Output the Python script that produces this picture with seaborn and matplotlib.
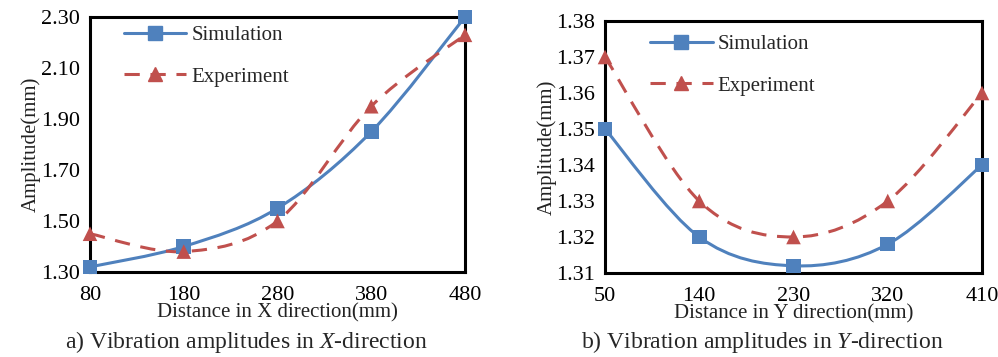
import numpy as np
import pandas as pd
import seaborn as sns
import matplotlib
matplotlib.use("Agg")
import matplotlib.pyplot as plt
from matplotlib.path import Path
from matplotlib.patches import PathPatch
from matplotlib.lines import Line2D

# ---- data ----
x_pos = [80, 180, 280, 380, 480]
x_sim = [1.32, 1.40, 1.55, 1.85, 2.30]
x_exp = [1.45, 1.38, 1.50, 1.95, 2.23]

y_pos = [50, 140, 230, 320, 410]
y_sim = [1.35, 1.32, 1.312, 1.318, 1.34]
y_exp = [1.37, 1.33, 1.32, 1.33, 1.36]

series_names = ["Simulation", "Experiment"]
BLUE = "#4F81BD"
RED = "#C0504D"
DASH = (0, (5, 3.5))

sns.set_theme(style="white")
plt.rcParams["font.family"] = ["Liberation Serif", "DejaVu Serif"]
plt.rcParams["mathtext.fontset"] = "custom"
plt.rcParams["mathtext.it"] = "Liberation Serif:italic"
plt.rcParams["mathtext.rm"] = "Liberation Serif"

fig = plt.figure(figsize=(9.98, 3.57), dpi=100)
W, H = 998, 357
axL = fig.add_axes([90 / W, 1 - 272 / H, (465 - 90) / W, (272 - 17) / H])
axR = fig.add_axes([605 / W, 1 - 273 / H, (982 - 605) / W, (273 - 21) / H])


def smooth_path(xs, ys):
    P = np.column_stack([xs, ys]).astype(float)
    n = len(P)
    verts = [P[0]]
    codes = [Path.MOVETO]
    for i in range(n - 1):
        p0 = P[i - 1] if i > 0 else P[i]
        p1 = P[i]
        p2 = P[i + 1]
        p3 = P[i + 2] if i + 2 < n else P[i + 1]
        c1 = p1 + (p2 - p0) / 6.0
        c2 = p2 - (p3 - p1) / 6.0
        verts += [c1, c2, p2]
        codes += [Path.CURVE4] * 3
    return Path(verts, codes)


def draw(ax, xs, sim, exp, ylim, yticks, fmt, xlabel, caption, cap_x, leg_anchor):
    df = pd.DataFrame({
        "pos": list(xs) * 2,
        "amp": list(sim) + list(exp),
        "series": [series_names[0]] * len(xs) + [series_names[1]] * len(xs),
    })
    ax.add_patch(PathPatch(smooth_path(xs, sim), fill=False, edgecolor=BLUE,
                           lw=2.2, zorder=2, clip_on=False))
    ax.add_patch(PathPatch(smooth_path(xs, exp), fill=False, edgecolor=RED,
                           lw=2.2, ls=DASH, zorder=2, clip_on=False))
    sns.scatterplot(data=df, x="pos", y="amp", hue="series", style="series",
                    markers={"Simulation": "s", "Experiment": "^"},
                    palette={"Simulation": BLUE, "Experiment": RED},
                    s=110, linewidth=0, ax=ax, legend=False, zorder=3,
                    clip_on=False)
    ax.set_xlim(xs[0], xs[-1])
    ax.set_ylim(*ylim)
    ax.set_xticks(xs)
    ax.set_yticks(yticks)
    ax.set_yticklabels([fmt.format(v) for v in yticks])
    ax.tick_params(axis="both", which="major", direction="out", length=5,
                   width=1.5, labelsize=16, colors="black", pad=2)
    ax.tick_params(axis="x", pad=5)
    for sp in ax.spines.values():
        sp.set_linewidth(2.2)
        sp.set_color("black")
    ax.set_xlabel(xlabel, fontsize=15, labelpad=-1, color="#222222")
    ax.set_ylabel("Amplitude(mm)", fontsize=15, labelpad=0, color="#222222")
    handles = [
        Line2D([], [], color=BLUE, lw=2.2, marker="s", markersize=10),
        Line2D([], [], color=RED, lw=2.2, ls=DASH, marker="^", markersize=10),
    ]
    ax.legend(handles, series_names, loc="upper left", bbox_to_anchor=leg_anchor,
              frameon=False, fontsize=15, handlelength=3.0, labelspacing=1.05,
              handletextpad=0.25)
    fig.text(cap_x / W, 1 - 342 / H, caption, ha="center", va="center",
             fontsize=17)


draw(axL, x_pos, x_sim, x_exp, (1.30, 2.30),
     [1.30, 1.50, 1.70, 1.90, 2.10, 2.30], "{:.2f}",
     "Distance in X direction(mm)", "a) Vibration amplitudes in $X$-direction",
     246, (0.04, 1.04))
draw(axR, y_pos, y_sim, y_exp, (1.31, 1.38),
     [1.31, 1.32, 1.33, 1.34, 1.35, 1.36, 1.37, 1.38], "{:.2f}",
     "Distance in Y direction(mm)", "b) Vibration amplitudes in $Y$-direction",
     762, (0.07, 1.02))

fig.savefig("out.png", dpi=100)
